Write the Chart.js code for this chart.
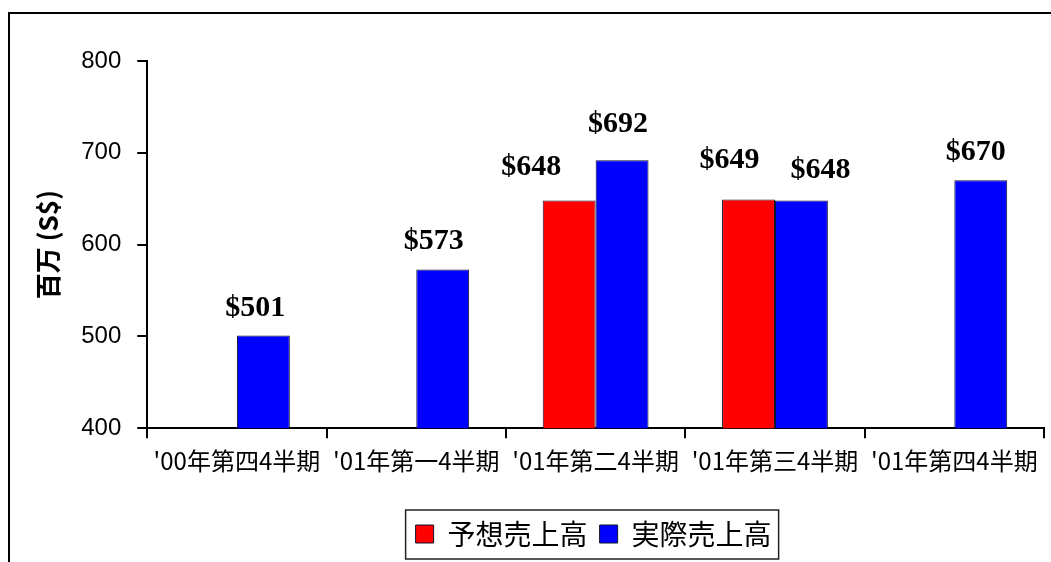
<!DOCTYPE html>
<html>
<head>
<meta charset="utf-8">
<script src="https://cdn.jsdelivr.net/npm/chart.js@4"></script>
<style>
	body { margin: 0; background: #fff; }
	canvas { display: block; }
</style>
</head>
<body>
<canvas id="grafica" width="1051" height="562"></canvas>
<script>
// DATOS DEL GRAFICO
const categorias = ["'00年第四4半期", "'01年第一4半期", "'01年第二4半期", "'01年第三4半期", "'01年第四4半期"];
const previsto = [null, null, 648, 649, null];
const real = [501, 573, 692, 648, 670];
const ejeMin = 400;
const ejeMax = 800;
const paso = 100;

// Desplazamiento de cada etiqueta de valor respecto al tope de su barra (px)
const desplaza = [
	[[0, 0], [0, 0], [-38, -33], [-19, -39], [0, 0]],
	[[-8, -27], [-9, -28], [-4, -36], [19, -30], [-5, -28]]
];

// Marco del grafico (solo lados izquierdo y superior)
const marco = {
	id: 'marco',
	beforeDraw(chart) {
		const c = chart.ctx;
		c.save();
		c.fillStyle = '#000';
		c.fillRect(8, 12, chart.width - 8, 2);
		c.fillRect(8, 12, 2, chart.height - 12);
		c.restore();
	}
};

// Etiquetas "$xxx" encima de cada barra
const etiquetas = {
	id: 'etiquetas',
	afterDatasetsDraw(chart) {
		const c = chart.ctx;
		c.save();
		c.font = 'bold 30px "Liberation Serif"';
		c.fillStyle = '#000';
		c.textAlign = 'center';
		c.textBaseline = 'middle';
		chart.data.datasets.forEach(function (ds, i) {
			chart.getDatasetMeta(i).data.forEach(function (barra, j) {
				if (ds.data[j] == null) return;
				const d = desplaza[i][j];
				c.fillText('$' + ds.data[j], barra.x + d[0], barra.y + d[1]);
			});
		});
		c.restore();
	}
};

// La leyenda se centra bajo el area de trazado y lleva un recuadro
const leyenda = {
	id: 'leyenda',
	afterLayout(chart) {
		chart.legend.left = chart.chartArea.left - 2;
		chart.legend.right = chart.chartArea.right - 2;
	},
	afterDraw(chart) {
		const cajas = chart.legend.legendHitBoxes;
		if (!cajas.length) return;
		const izq = cajas[0].left - 10;
		const ult = cajas[cajas.length - 1];
		const der = ult.left + ult.width + 7;
		const medio = cajas[0].top + cajas[0].height / 2;
		const c = chart.ctx;
		c.save();
		c.strokeStyle = '#222';
		c.lineWidth = 1.5;
		c.strokeRect(izq, medio - 24, der - izq, 49);
		c.restore();
	}
};

const ctx = document.getElementById('grafica');

let grafica = new Chart(ctx, {
	type: 'bar',
	data: {
		labels: categorias,
		datasets: [
			{
				label: '予想売上高',
				data: previsto,
				backgroundColor: '#ff0000',
				borderColor: '#10102a',
				borderWidth: 1
			},
			{
				label: '実際売上高',
				data: real,
				backgroundColor: '#0000ff',
				borderColor: '#10102a',
				borderWidth: 1
			}
		]
	},
	options: {
		responsive: false,
		animation: false,
		categoryPercentage: 0.59,
		barPercentage: 1,
		layout: { padding: { left: 33, right: 7, top: 61, bottom: 4 } },
		scales: {
			x: {
				grid: { drawOnChartArea: false, tickLength: 10, color: '#000', lineWidth: 2 },
				border: { color: '#000', width: 2 },
				ticks: {
					color: '#000',
					padding: 8,
					maxRotation: 0,
					autoSkip: false,
					font: { family: '"Noto Sans CJK JP"', size: 24 }
				},
				// espacio extra entre las categorias y la leyenda
				afterFit(eje) {
					eje.height += 25;
				}
			},
			y: {
				min: ejeMin,
				max: ejeMax,
				grid: { drawOnChartArea: false, tickLength: 10, color: '#000', lineWidth: 2 },
				border: { color: '#000', width: 2 },
				ticks: {
					stepSize: paso,
					color: '#000',
					padding: 16,
					font: { family: '"Liberation Sans"', size: 24 }
				},
				title: {
					display: true,
					text: '百万 (S$)',
					color: '#000',
					padding: { top: 0, bottom: 1 },
					font: { family: '"Noto Sans CJK JP"', size: 26, weight: 'bold' }
				}
			}
		},
		plugins: {
			legend: {
				position: 'bottom',
				labels: {
					color: '#000',
					boxWidth: 18,
					boxHeight: 18,
					padding: 12,
					font: { family: '"Noto Sans CJK JP"', size: 28 }
				}
			},
			tooltip: { enabled: false }
		}
	},
	plugins: [marco, etiquetas, leyenda]
});
</script>
</body>
</html>
